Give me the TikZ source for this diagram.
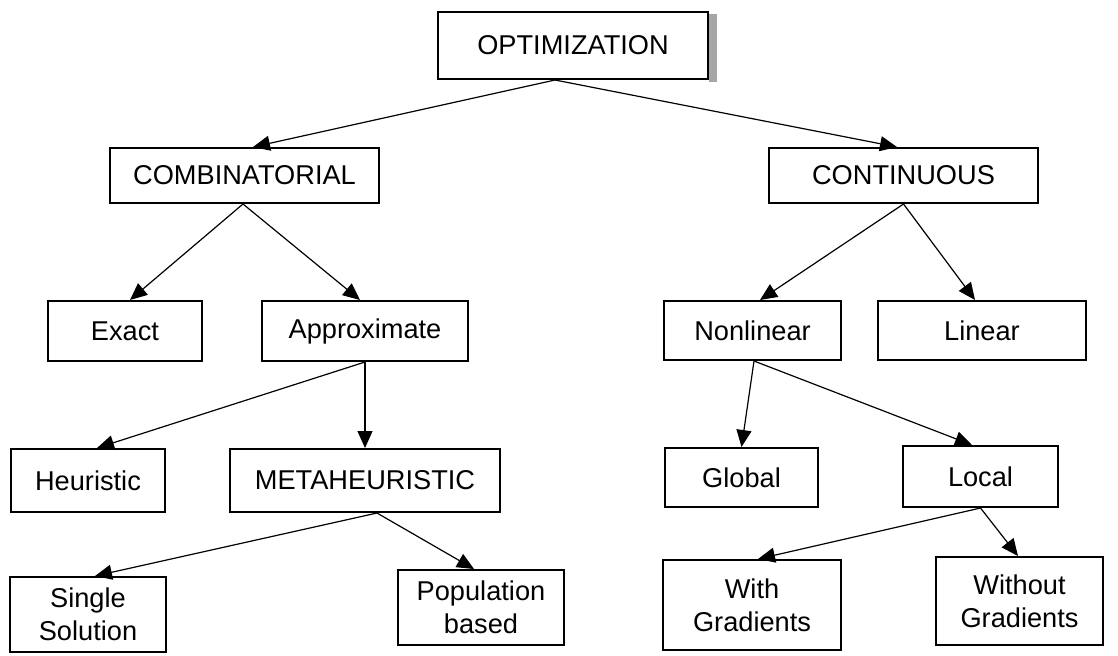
\documentclass[tikz,border=0pt]{standalone}
\usepackage{fontspec}
\setmainfont{Liberation Sans}
\usetikzlibrary{arrows.meta}

\begin{document}
\begin{tikzpicture}[
        x=.5pt, y=-.5pt,
        box/.style={draw, line width=1pt, inner sep=0pt, align=center,
            font=\fontsize{13.6}{16.5}\selectfont},
        arr/.style={-{Triangle[length=8.5pt, width=7.5pt]}, line width=.6pt},
    ]
    \useasboundingbox (0,0) rectangle (1118,655);

    %% root, with a grey shadow on its right side
    \fill[gray!70] (709,14) rectangle (717,82);
    \node[box, minimum width=135pt, minimum height=33.5pt] (opt) at (573,45.5) {OPTIMIZATION};

    %% first level
    \node[box, minimum width=134.5pt, minimum height=27.5pt] (comb) at (244.5,175.5) {COMBINATORIAL};
    \node[box, minimum width=134.5pt, minimum height=27.5pt] (cont) at (903.5,175.5) {CONTINUOUS};

    %% second level
    \node[box, minimum width=77pt, minimum height=30pt] (exact) at (125,331) {Exact};
    \node[box, minimum width=103pt, minimum height=30pt] (approx) at (365,331) {Approximate};
    \node[box, minimum width=88.5pt, minimum height=29.5pt] (nonlin) at (752.5,330.5) {Nonlinear};
    \node[box, minimum width=104pt, minimum height=29.5pt] (lin) at (982,330.5) {Linear};

    %% third level
    \node[box, minimum width=77pt, minimum height=31.5pt] (heur) at (88,480.5) {Heuristic};
    \node[box, minimum width=135pt, minimum height=31.5pt] (meta) at (365,480.5) {METAHEURISTIC};
    \node[box, minimum width=76.5pt, minimum height=29.5pt] (glob) at (741.5,477.5) {Global};
    \node[box, minimum width=77.5pt, minimum height=30.5pt] (local) at (980.5,476.5) {Local};

    %% leaves
    \node[box, minimum width=78pt, minimum height=37.5pt] (single) at (88,614.5) {Single\\Solution};
    \node[box, minimum width=83pt, minimum height=37.5pt] (pop) at (481,607.5) {Population\\based};
    \node[box, minimum width=89pt, minimum height=45pt] (with) at (752,605) {With\\Gradients};
    \node[box, minimum width=83.5pt, minimum height=44pt] (without) at (1019.5,601) {Without\\Gradients};

    %% connectors
    \draw[arr] ([xshift=-9pt]opt.south) -- ([xshift=4.25pt]comb.north);
    \draw[arr] ([xshift=-9pt]opt.south) -- ([xshift=-3.25pt]cont.north);
    \draw[arr] ([xshift=-.75pt]comb.south) -- ([xshift=2.5pt]exact.north);
    \draw[arr] ([xshift=-.75pt]comb.south) -- ([xshift=-2.5pt]approx.north);
    \draw[arr] (cont.south) -- ([xshift=3.75pt]nonlin.north);
    \draw[arr] (cont.south) -- ([xshift=-3.5pt]lin.north);
    \draw[arr] (approx.south) -- ([xshift=4.5pt]heur.north);
    \draw[arr] (approx.south) -- (meta.north);
    \draw[arr] ([xshift=.75pt]nonlin.south) -- (glob.north);
    \draw[arr] ([xshift=.75pt]nonlin.south) -- ([xshift=-4.25pt]local.north);
    \draw[arr] ([xshift=6pt]meta.south) -- ([xshift=3.5pt]single.north);
    \draw[arr] ([xshift=6pt]meta.south) -- ([xshift=-3.5pt]pop.north);
    \draw[arr] (local.south) -- ([xshift=3pt]with.north);
    \draw[arr] (local.south) -- ([xshift=-.75pt]without.north);
\end{tikzpicture}
\end{document}
